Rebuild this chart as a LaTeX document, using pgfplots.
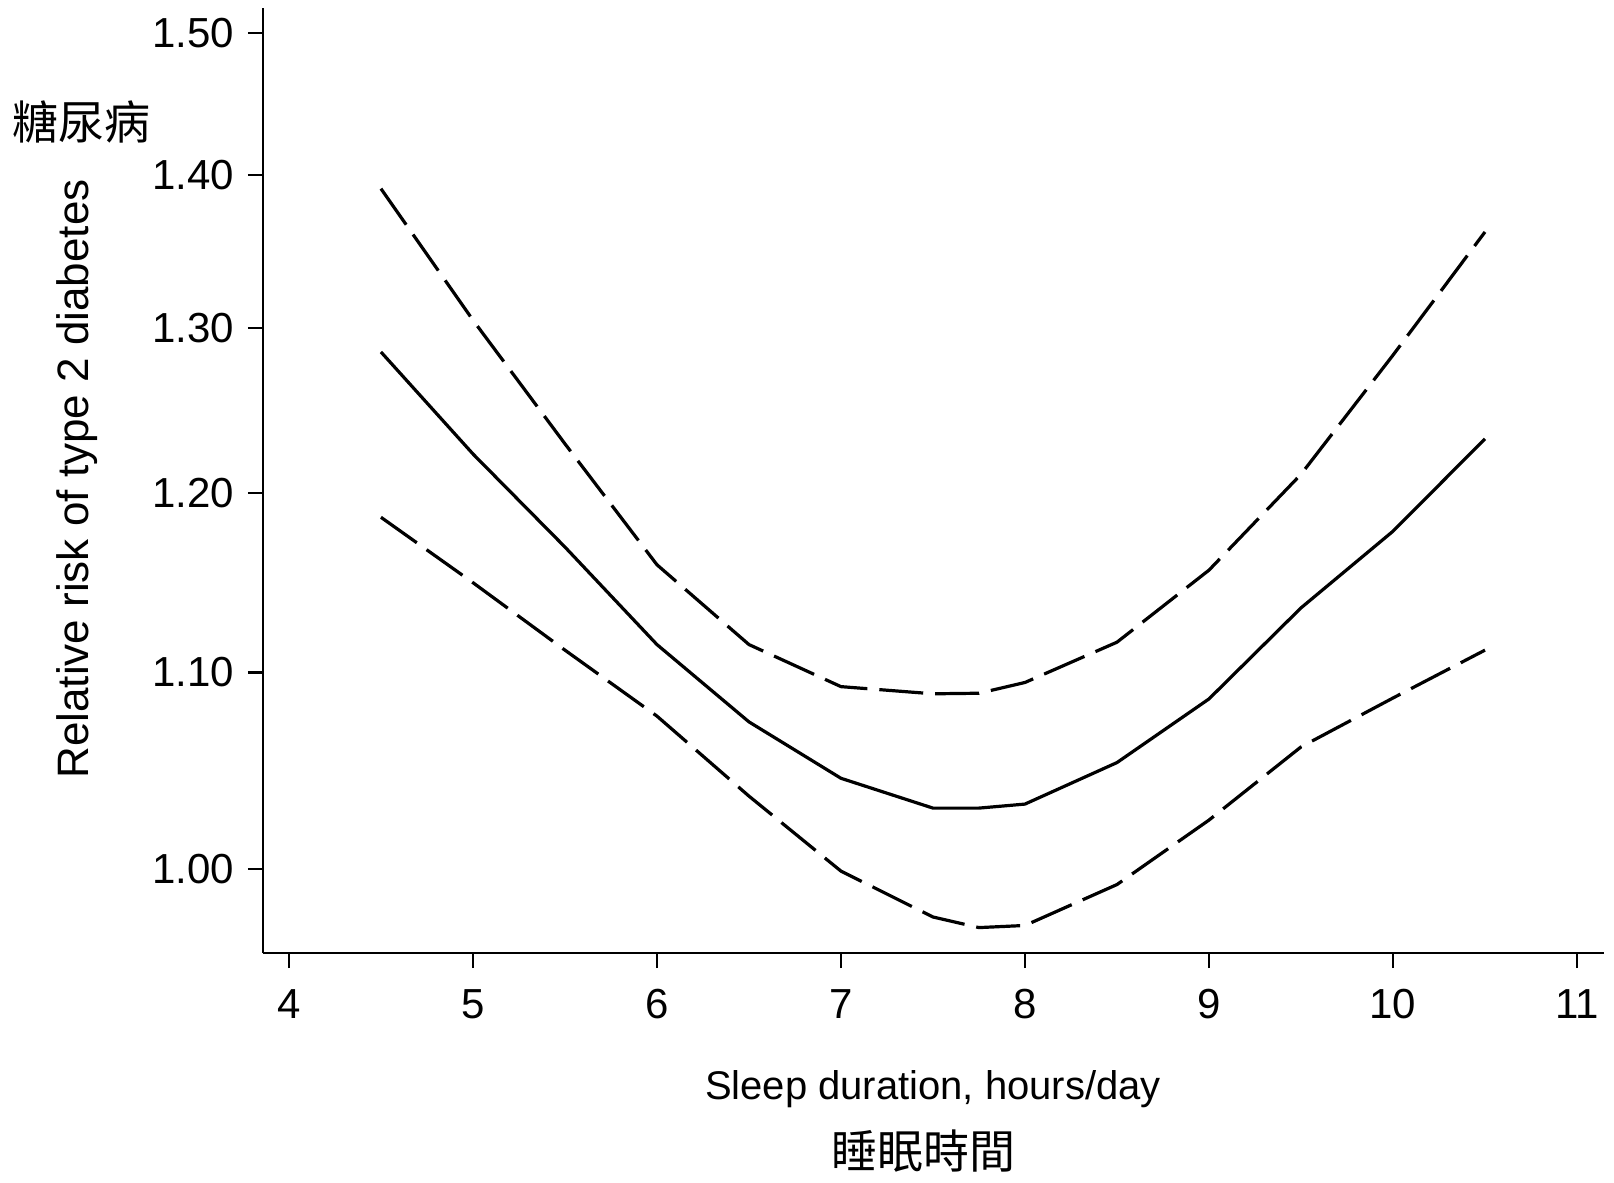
\documentclass[border=0pt]{standalone}
\usepackage{fontspec}
\setmainfont{Liberation Sans}
\newfontfamily\cjk{Noto Sans CJK TC}
\usepackage{pgfplots}
\pgfplotsset{compat=1.18}
\begin{document}
\begin{tikzpicture}
\begin{axis}[
  at={(0,0)}, anchor=south west,
  scale only axis, width=335.25pt, height=236.25pt,
  xmin=3.859, xmax=11.147,
  ymode=log, ymin=0.9601, ymax=1.5183,
  axis x line*=bottom, axis y line*=left,
  xtick={4,5,6,7,8,9,10,11},
  ytick={1.0,1.1,1.2,1.3,1.4,1.5},
  yticklabels={1.00,1.10,1.20,1.30,1.40,1.50},
  yminorticks=false, xminorticks=false,
  tick align=outside, major tick length=3.75pt,
  tick style={line width=0.6pt, black},
  axis line style={line width=0.6pt, black},
  ticklabel style={font=\fontsize{10.5}{12}\selectfont},
  xticklabel style={yshift=-1.8pt},
  /pgf/number format/assume math mode=true,
  clip=false,
]
\addplot[black, line width=0.8pt] table {
x y
4.5 1.285
5.0 1.223
5.5 1.169
6.0 1.115
6.5 1.074
7.0 1.045
7.5 1.030
7.75 1.030
8.0 1.032
8.5 1.053
9.0 1.086
9.5 1.135
10.0 1.178
10.5 1.232
};
\addplot[black, line width=0.8pt, dash pattern=on 11pt off 3pt] table {
x y
4.5 1.391
5.0 1.305
5.5 1.229
6.0 1.159
6.5 1.115
7.0 1.0925
7.5 1.0887
7.75 1.089
8.0 1.0947
8.5 1.1163
9.0 1.156
9.5 1.211
10.0 1.283
10.5 1.362
};
\addplot[black, line width=0.8pt, dash pattern=on 11pt off 3pt] table {
x y
4.5 1.186
5.0 1.149
5.5 1.112
6.0 1.077
6.5 1.036
7.0 0.999
7.5 0.977
7.75 0.972
8.0 0.973
8.5 0.9925
9.0 1.024
9.5 1.061
10.0 1.0865
10.5 1.112
};
\end{axis}
\node[rotate=90, font=\fontsize{11}{13}\selectfont] at (-46.5pt,118.5pt) {Relative risk of type 2 diabetes};
\node[font=\fontsize{10}{12}\selectfont] at (167.5pt,-34pt) {Sleep duration, hours/day};
\node[font=\cjk\fontsize{11.5}{13}\selectfont] at (165pt,-49.5pt) {睡眠時間};
\node[font=\cjk\fontsize{11.5}{13}\selectfont] at (-45.25pt,207.75pt) {糖尿病};
\pgfresetboundingbox
\path[use as bounding box] (-65.75pt,-57.25pt) rectangle (337.75pt,238.25pt);
\end{tikzpicture}
\end{document}
